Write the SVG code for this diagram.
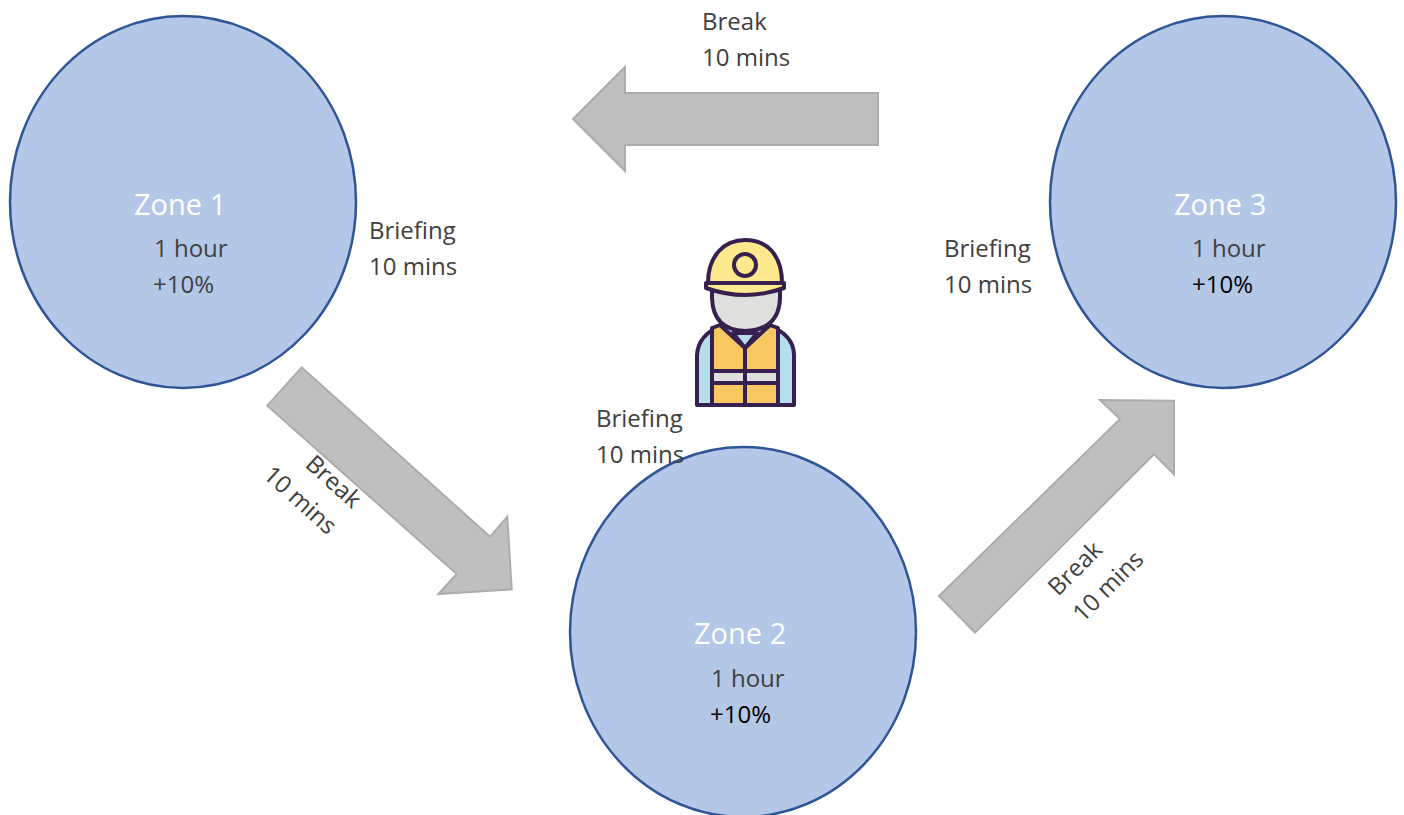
<svg xmlns="http://www.w3.org/2000/svg" width="1404" height="815" viewBox="0 0 1404 815">
<style>
text{font-family:"Open Sans","Noto Sans","Liberation Sans",sans-serif;font-size:24px;fill:#404040}
.t{font-size:29px;fill:#fff}
.k{fill:#000}
.zone{fill:#b4c7e7;stroke:#2f5597;stroke-width:2.5}
.arrow{fill:#bfbfbf;stroke:#afabab;stroke-width:2}
.i{stroke:#35204f;stroke-width:4;stroke-linejoin:round;stroke-linecap:round}
</style>
<rect width="1404" height="815" fill="#fff"/>
<g id="connectors">
<path class="arrow" d="M878 93H625V67L573 119L625 171V145H878Z"/>
<path class="arrow" d="M301.7 367.3L267.3 405.7L456.7 574L438.3 594L511.7 589.3L507.3 516.7L490 536.7Z"/>
<path class="arrow" d="M939 596L975 632.7L1154 454.3L1174 474.3V400.7L1100 400L1120 419Z"/>
</g>
<g id="zone1">
<ellipse class="zone" cx="183" cy="202" rx="173" ry="186"/>
<text class="t" x="134" y="215">Zone 1</text>
<text x="154" y="257">1 hour</text>
<text x="153" y="293">+10%</text>
</g>
<g id="zone2">
<ellipse class="zone" cx="743" cy="632" rx="173" ry="185"/>
<text class="t" x="694" y="644">Zone 2</text>
<text x="711" y="687">1 hour</text>
<text class="k" x="710" y="723">+10%</text>
</g>
<g id="zone3">
<ellipse class="zone" cx="1223" cy="202" rx="173" ry="186"/>
<text class="t" x="1174" y="215">Zone 3</text>
<text x="1192" y="257">1 hour</text>
<text class="k" x="1192" y="293">+10%</text>
</g>
<g id="labels">
<text x="702" y="30">Break</text>
<text x="702" y="66">10 mins</text>
<text x="369" y="239">Briefing</text>
<text x="369" y="275">10 mins</text>
<text x="944" y="257">Briefing</text>
<text x="944" y="293">10 mins</text>
<text x="596" y="427">Briefing</text>
<text x="596" y="463">10 mins</text>
<g transform="translate(304 466) rotate(42)"><text x="0" y="0">Break</text><text x="-24" y="36">10 mins</text></g>
<g transform="translate(1058 597) rotate(-45)"><text x="0" y="0">Break</text><text x="-1" y="36">10 mins</text></g>
</g>
<g id="worker">
<path class="i" fill="#b5dfed" d="M697 405V355Q698 335 722 325H768Q794 335 794 355V405Z"/>
<path class="i" fill="#f9c862" d="M712 405V328L720 325L745 348L770 325L778 328V405Z"/>
<path class="i" fill="#b5dfed" d="M733 333L745 348L757 333Z"/>
<rect class="i" fill="#dfdfdd" x="712" y="371" width="66" height="12"/>
<path class="i" fill="none" d="M745 348V405"/>
<path class="i" fill="#dfdfdd" d="M712 290V298Q713 330 745 331Q779 330 780 298V290Z"/>
<path class="i" fill="#ffe98f" d="M708 283C708 255 725 240 745 240C767 240 782 255 782 283V285H708Z"/>
<path class="i" fill="#ffe98f" d="M706 283H784V288Q745 302 706 288Z"/>
<circle class="i" cx="745" cy="265" r="11" fill="#ffe98f"/>
</g>
</svg>
